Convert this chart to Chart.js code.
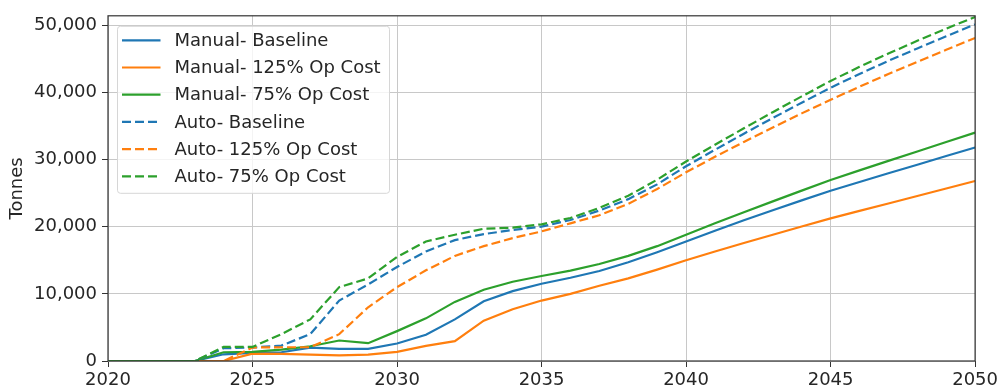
<!DOCTYPE html>
<html>
<head>
<meta charset="utf-8">
<script src="https://cdn.jsdelivr.net/npm/chart.js@4/dist/chart.umd.min.js"></script>
<style>
  html, body { margin: 0; padding: 0; background: #fff; }
  #wrap { width: 1001px; height: 390px; }
</style>
</head>
<body>
<div id="wrap"><canvas id="c" width="1001" height="390"></canvas></div>
<script>
// Cumulative tonnes per year, 2020-2050
const years = [2020, 2021, 2022, 2023, 2024, 2025, 2026, 2027, 2028, 2029,
               2030, 2031, 2032, 2033, 2034, 2035, 2036, 2037, 2038, 2039,
               2040, 2041, 2042, 2043, 2044, 2045, 2046, 2047, 2048, 2049, 2050];

const manualBaseline = [0, 0, 0, 0, 1000, 1200, 1300, 2000, 1800, 1800,
                        2600, 3900, 6200, 8900, 10400, 11500, 12400, 13400, 14700, 16200,
                        17800, 19400, 20950, 22450, 23920, 25350, 26650, 27950, 29230, 30520, 31800];
const manual125 = [0, 0, 0, 0, 0, 1100, 1050, 950, 850, 950,
                   1350, 2250, 2950, 6000, 7700, 9000, 10000, 11200, 12300, 13600,
                   15000, 16300, 17560, 18800, 20030, 21240, 22350, 23460, 24570, 25690, 26800];
const manual75 = [0, 0, 0, 0, 1300, 1350, 1700, 2200, 3050, 2650,
                  4450, 6350, 8800, 10600, 11800, 12650, 13450, 14450, 15650, 17100,
                  18800, 20500, 22150, 23770, 25370, 26950, 28380, 29800, 31200, 32600, 34000];
const autoBaseline = [0, 0, 0, 0, 1900, 2000, 2300, 4000, 9000, 11400,
                      14000, 16300, 18000, 18900, 19500, 20000, 21000, 22400, 24100, 26300,
                      29000, 31450, 33850, 36180, 38460, 40690, 42740, 44690, 46540, 48350, 50120];
const auto125 = [0, 0, 0, 0, 0, 2000, 2050, 2050, 4000, 8000,
                 11000, 13500, 15650, 17100, 18300, 19300, 20500, 21700, 23400, 25600,
                 28100, 30400, 32620, 34770, 36870, 38900, 40850, 42730, 44550, 46340, 48090];
const auto75 = [0, 0, 0, 0, 2100, 2100, 4000, 6200, 11000, 12300,
                15500, 17800, 18800, 19700, 19850, 20350, 21300, 22800, 24600, 27000,
                29700, 32200, 34650, 37050, 39400, 41700, 43800, 45780, 47680, 49480, 51230];

const seriesNames = ['Manual- Baseline', 'Manual- 125% Op Cost', 'Manual- 75% Op Cost',
                     'Auto- Baseline', 'Auto- 125% Op Cost', 'Auto- 75% Op Cost'];
const seriesValues = [manualBaseline, manual125, manual75, autoBaseline, auto125, auto75];

const yTickValues = [0, 10000, 20000, 30000, 40000, 50000];
const xTickValues = [2020, 2025, 2030, 2035, 2040, 2045, 2050];

const BLUE = '#1f77b4', ORANGE = '#ff7f0e', GREEN = '#2ca02c';
const colors = [BLUE, ORANGE, GREEN, BLUE, ORANGE, GREEN];
const DASH = [9, 4];
const FONT = { family: '"DejaVu Sans", sans-serif', size: 18 };
const TEXT = '#262626';

const datasets = seriesNames.map((name, i) => ({
  label: name,
  data: years.map((yr, k) => ({ x: yr, y: seriesValues[i][k] })),
  borderColor: colors[i],
  backgroundColor: colors[i],
  borderWidth: 2.2,
  borderDash: i >= 3 ? DASH : [],
  pointRadius: 0,
  tension: 0,
  fill: false,
  order: seriesNames.length - 1 - i   // later series drawn on top
}));

// Frame around the plot area plus the boxed legend in the upper left
const frameAndLegend = {
  id: 'frameAndLegend',
  afterDraw(chart) {
    const { ctx, chartArea: a } = chart;
    ctx.save();
    ctx.strokeStyle = '#333';
    ctx.lineWidth = 1.2;
    ctx.strokeRect(a.left, a.top, a.right - a.left, a.bottom - a.top);

    const bx = a.left + 9.5, by = a.top + 10.5, bw = 272, bh = 167;
    ctx.beginPath();
    ctx.roundRect(bx, by, bw, bh, 3);
    ctx.fillStyle = 'rgba(255,255,255,0.8)';
    ctx.fill();
    ctx.strokeStyle = '#d6d6d6';
    ctx.lineWidth = 1;
    ctx.stroke();

    ctx.font = `${FONT.size}px ${FONT.family}`;
    ctx.textBaseline = 'middle';
    ctx.textAlign = 'left';
    chart.data.datasets.forEach((ds, i) => {
      const ry = by + 14 + i * 27.2;
      ctx.beginPath();
      ctx.setLineDash(ds.borderDash || []);
      ctx.strokeStyle = ds.borderColor;
      ctx.lineWidth = ds.borderWidth;
      ctx.moveTo(bx + 4.5, ry);
      ctx.lineTo(bx + 43, ry);
      ctx.stroke();
      ctx.setLineDash([]);
      ctx.fillStyle = TEXT;
      ctx.fillText(ds.label, bx + 57, ry + 1);
    });
    ctx.restore();
  }
};

new Chart(document.getElementById('c'), {
  type: 'line',
  data: { datasets },
  plugins: [frameAndLegend],
  options: {
    responsive: false,
    devicePixelRatio: 1,
    animation: false,
    layout: { padding: { top: 8, right: 24, left: 0, bottom: 0 } },
    plugins: { legend: { display: false }, tooltip: { enabled: false } },
    scales: {
      x: {
        type: 'linear',
        min: xTickValues[0],
        max: xTickValues[xTickValues.length - 1],
        afterBuildTicks(s) { s.ticks = xTickValues.map(v => ({ value: v })); },
        ticks: { font: FONT, color: TEXT, padding: 3, maxRotation: 0,
                 callback: v => String(v) },
        grid: { color: '#c8c8c8', lineWidth: 1, tickLength: 6, tickColor: '#333', drawTicks: true },
        border: { display: false },
        afterFit(s) { s.height = 29; }
      },
      y: {
        type: 'linear',
        min: 0,
        max: 51400,
        afterBuildTicks(s) { s.ticks = yTickValues.map(v => ({ value: v })); },
        ticks: { font: FONT, color: TEXT, padding: 5,
                 callback: v => v.toLocaleString('en-US') },
        grid: { color: '#c8c8c8', lineWidth: 1, tickLength: 6, tickColor: '#333', drawTicks: true },
        border: { display: false },
        title: { display: true, text: 'Tonnes', font: FONT, color: TEXT,
                 padding: { top: 7, bottom: 0 } },
        afterFit(s) { s.width = 108; }
      }
    }
  }
});
</script>
</body>
</html>
